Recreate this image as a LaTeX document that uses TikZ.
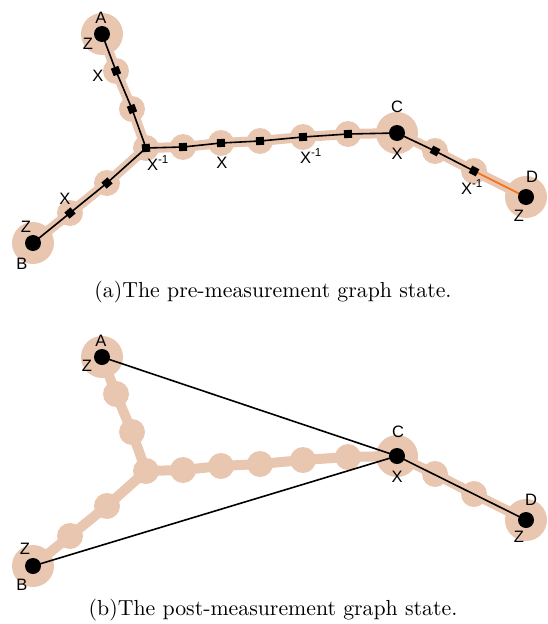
\documentclass[tikz,border=0pt]{standalone}
\usepackage{fontspec}
\setsansfont{Liberation Sans}
\definecolor{peach}{RGB}{233,198,176}
\definecolor{orng}{RGB}{250,110,20}
\begin{document}
\begin{tikzpicture}[x=1pt,y=-1pt,
  big/.style={circle,fill=peach,minimum size=42pt,inner sep=0pt},
  small/.style={circle,fill=peach,minimum size=26pt,inner sep=0pt},
  dot/.style={circle,fill=black,minimum size=16pt,inner sep=0pt},
  sq/.style={fill=black,minimum size=8pt,inner sep=0pt},
  lbl/.style={font=\sffamily\fontsize{16.5}{16.5}\selectfont,inner sep=0pt},
  band/.style={peach,line width=10pt},
  edge/.style={black,line width=1.6pt},
  captxt/.style={font=\fontsize{10}{12}\selectfont,inner sep=0pt,scale=2.18}]
\useasboundingbox (0,0) rectangle (547,624);
% ---------- (a) ----------
\foreach \n/\x/\y in {A/102/34,a1/116/71,a2/132/109,H/146/148,b2/107/183,b1/70/213,B/33/243,
  c1/183/147,c2/221/143,c3/260/141,c4/303/137,c5/348/134,C/397/133,d1/435/151,d2/474/171,D/526/197}
  \coordinate (\n) at (\x,\y);
\draw[band] (A)--(a1)--(a2)--(H)--(c1)--(c2)--(c3)--(c4)--(c5)--(C)--(d1)--(d2)--(D);
\draw[band] (H)--(b2)--(b1)--(B);
\foreach \n in {A,B,C,D} \node[big] (\n-bg) at (\n) {};
\foreach \n in {a1,a2,H,b1,b2,c1,c2,c3,c4,c5,d1,d2} \node[small] (\n-bg) at (\n) {};
\draw[edge] (A)--(a1)--(a2)--(H)--(c1)--(c2)--(c3)--(c4)--(c5)--(C)--(d1)--(d2);
\draw[edge,orng] (d2)--(D);
\draw[edge] (H)--(b2)--(b1)--(B);
\foreach \n in {A,B,C,D} \node[dot] (\n-dot) at (\n) {};
\foreach \n/\r in {a1/21,a2/21,H/5,b1/40,b2/40,c1/3,c2/3,c3/3,c4/4,c5/4,d1/63,d2/63}
  \node[sq,rotate=\r] (\n-sq) at (\n) {};
\node[lbl] (la-A) at (101,18) {A};
\node[lbl] (la-ZA) at (88,44) {Z};
\node[lbl] (la-Xa1) at (98,76) {X};
\node[lbl] (la-XH) at (158,163) {X\textsuperscript{-1}};
\node[lbl] (la-Xc2) at (222,163) {X};
\node[lbl] (la-Xc4) at (311,156) {X\textsuperscript{-1}};
\node[lbl] (la-C) at (397,107) {C};
\node[lbl] (la-XC) at (397,154) {X};
\node[lbl] (la-Xd2) at (472,187) {X\textsuperscript{-1}};
\node[lbl] (la-D) at (532,177) {D};
\node[lbl] (la-ZD) at (519,216) {Z};
\node[lbl] (la-Xb1) at (65,199) {X};
\node[lbl] (la-ZB) at (26,227) {Z};
\node[lbl] (la-B) at (22,264) {B};
\node[captxt] (capa) at (273,292) {(a)The pre-measurement graph state.};
% ---------- (b) ----------
\foreach \n/\x/\y in {pA/102/357,pa1/116/394,pa2/132/432,pH/146/471,pb2/107/506,pb1/70/536,pB/33/566,
  pc1/183/470,pc2/221/466,pc3/260/464,pc4/303/460,pc5/348/457,pC/397/456,pd1/435/474,pd2/474/494,pD/526/520}
  \coordinate (\n) at (\x,\y);
\draw[band] (pA)--(pa1)--(pa2)--(pH)--(pc1)--(pc2)--(pc3)--(pc4)--(pc5)--(pC)--(pd1)--(pd2)--(pD);
\draw[band] (pH)--(pb2)--(pb1)--(pB);
\foreach \n in {pA,pB,pC,pD} \node[big] (\n-bg) at (\n) {};
\foreach \n in {pa1,pa2,pH,pb1,pb2,pc1,pc2,pc3,pc4,pc5,pd1,pd2} \node[small] (\n-bg) at (\n) {};
\draw[edge] (pA)--(pC)--(pB);
\draw[edge] (pC)--(pD);
\foreach \n in {pA,pB,pC,pD} \node[dot] (\n-dot) at (\n) {};
\node[lbl] (lb-A) at (101,341) {A};
\node[lbl] (lb-ZA) at (87,366) {Z};
\node[lbl] (lb-C) at (398,432) {C};
\node[lbl] (lb-XC) at (397,477) {X};
\node[lbl] (lb-D) at (531,500) {D};
\node[lbl] (lb-ZD) at (519,537) {Z};
\node[lbl] (lb-ZB) at (25,549) {Z};
\node[lbl] (lb-B) at (22,585) {B};
\node[captxt] (capb) at (273,610) {(b)The post-measurement graph state.};
\end{tikzpicture}
\end{document}
